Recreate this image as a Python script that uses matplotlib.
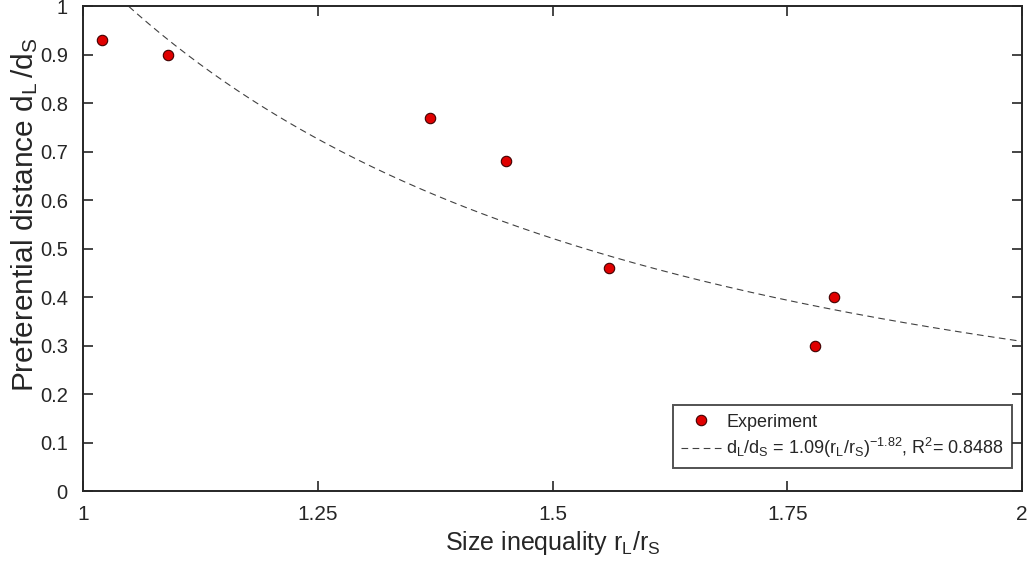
import numpy as np
import matplotlib.pyplot as plt
from matplotlib import font_manager

plt.rcParams['font.family'] = ['Liberation Sans', 'DejaVu Sans']
plt.rcParams['mathtext.fontset'] = 'custom'
plt.rcParams['mathtext.rm'] = 'Liberation Sans'
plt.rcParams['mathtext.it'] = 'Liberation Sans'

names = {f.name for f in font_manager.fontManager.ttflist}
narrow = 'Liberation Sans Narrow' if 'Liberation Sans Narrow' in names else 'Liberation Sans'

# experiment points
size_ratio = [1.02, 1.09, 1.37, 1.45, 1.56, 1.78, 1.80]
pref_dist = [0.93, 0.90, 0.77, 0.68, 0.46, 0.30, 0.40]

# power-law fit shown in legend
fit_a = 1.09
fit_b = -1.82
fit_r2 = 0.8488

x_ticks = [1, 1.25, 1.5, 1.75, 2]
x_ticklabels = ['1', '1.25', '1.5', '1.75', '2']
y_ticks = [0, 0.1, 0.2, 0.3, 0.4, 0.5, 0.6, 0.7, 0.8, 0.9, 1]
y_ticklabels = ['0', '0.1', '0.2', '0.3', '0.4', '0.5', '0.6', '0.7', '0.8', '0.9', '1']

fig = plt.figure(figsize=(10.33, 5.69), dpi=100)
ax = fig.add_axes([0.0804, 0.137, 0.909, 0.852])

ax.plot(size_ratio, pref_dist, 'o', color='#e00000', markeredgecolor='#400000',
        markeredgewidth=0.8, markersize=7.5, label='Experiment', zorder=3)

xf = np.linspace(1, 2, 300)
ax.plot(xf, fit_a * xf ** fit_b, '--', color='#404040', lw=0.8, dashes=(6, 4),
        label=r'$\mathregular{d_L/d_S}$ = %.2f($\mathregular{r_L/r_S}$)$^{\mathregular{%.2f}}$, R$^{\mathregular{2}}$= %.4f'
        % (fit_a, fit_b, fit_r2))

ax.set_xlim(1, 2)
ax.set_ylim(0, 1)
ax.set_xticks(x_ticks)
ax.set_xticklabels(x_ticklabels, family=narrow, fontsize=15)
ax.set_yticks(y_ticks)
ax.set_yticklabels(y_ticklabels, family=narrow, fontsize=14.5)
ax.tick_params(direction='in', length=7, width=1.2, colors='#262626',
               top=True, right=True, labeltop=False, labelright=False)
ax.tick_params(axis='x', pad=10)
ax.tick_params(axis='y', pad=11)
for s in ax.spines.values():
    s.set_linewidth(1.4)
    s.set_color('#262626')

ax.set_xlabel(r'Size inequality $\mathregular{r_L/r_S}$', fontsize=18, family=narrow,
              color='#262626', labelpad=4)
ax.set_ylabel(r'Preferential distance $\mathregular{d_L\,/d_S}$', fontsize=21.5,
              color='#262626')
ax.yaxis.set_label_coords(-0.046, 0.57)

leg = ax.legend(loc='lower right', bbox_to_anchor=(0.9895, 0.047),
                prop={'size': 13}, frameon=True, fancybox=False, edgecolor='#262626',
                handlelength=2.2, handletextpad=0.3, borderpad=0.45, labelspacing=0.3,
                borderaxespad=0)
leg.get_frame().set_linewidth(1.4)
for t in leg.get_texts():
    t.set_color('#262626')

fig.savefig('out.png', dpi=100)
